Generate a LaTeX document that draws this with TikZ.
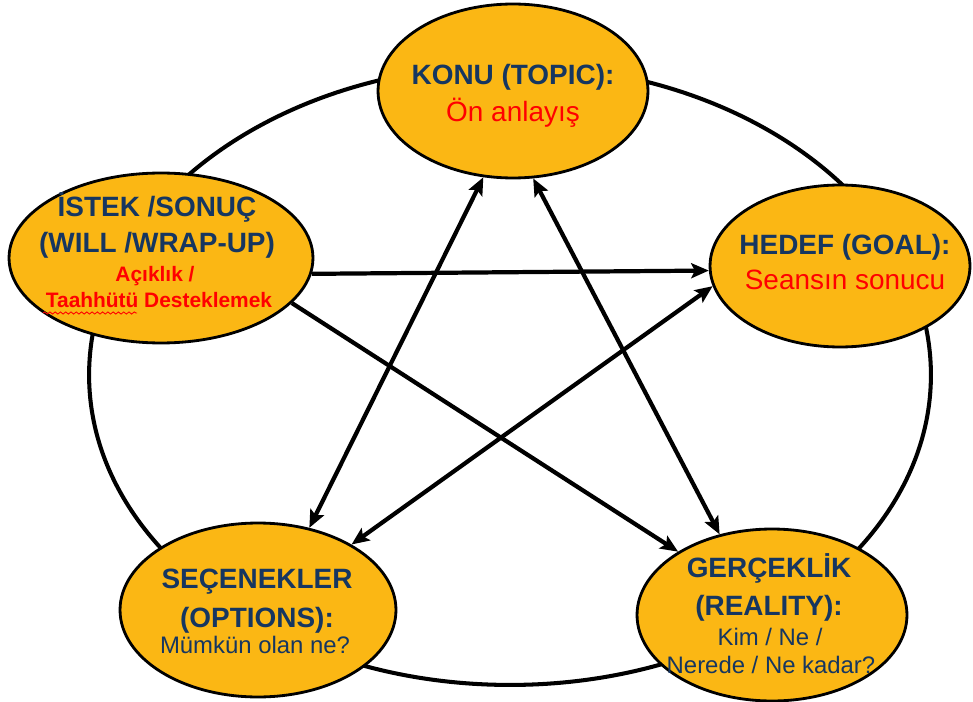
\documentclass[tikz,border=0pt]{standalone}
\usepackage{fontspec}
\setmainfont{Liberation Sans}
\usetikzlibrary{shapes.geometric,arrows.meta,decorations.pathmorphing}
\definecolor{bubblefill}{RGB}{251,183,20}
\definecolor{navy}{RGB}{22,54,96}
\definecolor{hot}{RGB}{255,0,0}

\begin{document}
\begin{tikzpicture}[x=0.02cm,y=-0.02cm,
  ring/.style={draw=black, line width=2.3pt},
  bubble/.style={ellipse, draw=black, line width=1.6pt, fill=bubblefill, inner sep=0pt},
  head/.style={anchor=base, inner sep=0pt, text=navy, font=\fontsize{15.9}{19}\selectfont\bfseries},
  redline/.style={anchor=base, inner sep=0pt, text=hot, font=\fontsize{15.9}{19}\selectfont},
  redsmall/.style={anchor=base, inner sep=0pt, text=hot, font=\fontsize{11.9}{14}\selectfont\bfseries},
  navyline/.style={anchor=base, inner sep=0pt, text=navy, font=\fontsize{13.6}{16}\selectfont},
  arr/.style={draw=black, line width=2.4pt, -{Stealth[length=10pt, width=8.5pt, inset=2pt]}},
  twoway/.style={draw=black, line width=2.4pt, {Stealth[length=10pt, width=8.5pt, inset=2pt]}-{Stealth[length=10pt, width=8.5pt, inset=2pt]}},
  squiggle/.style={draw=hot, line width=0.5pt, decorate, decoration={snake, amplitude=0.6pt, segment length=3pt}}
]
\useasboundingbox (0,0) rectangle (973,702);

% outer cycle behind the five stages
\draw[ring] (510,375) ellipse [x radius=8.42cm, y radius=6.2cm];

% the five stages
\node[bubble, minimum width=5.4cm, minimum height=3.48cm] (konu) at (513,91) {};
\node[bubble, minimum width=6.08cm, minimum height=3.4cm] (istek) at (161,258) {};
\node[bubble, minimum width=5.2cm, minimum height=3.24cm] (hedef) at (840,266) {};
\node[bubble, minimum width=5.52cm, minimum height=3.48cm] (secenek) at (258,610) {};
\node[bubble, minimum width=5.4cm, minimum height=3.44cm] (gercek) at (772,615) {};

% connections between the stages
\draw[arr] (istek.354.7) -- (hedef.182.6);
\draw[arr] (istek.341.3) -- (gercek.146.9);
\draw[twoway] (konu.251) -- (secenek.58.6);
\draw[twoway] (konu.283) -- (gercek.123);
\draw[twoway] (hedef.189.8) -- (secenek.35.5);

% labels
\node[head] (konu1) at (513,85) {KONU (TOPIC):};
\node[redline] (konu2) at (513,122) {Ön anlayış};

\node[head] (istek1) at (157,217) {İSTEK /SONUÇ};
\node[head] (istek2) at (157,253) {(WILL /WRAP-UP)};
\node[redsmall] (istek3) at (155,282) {Açıklık /};
\node[redsmall] (istek4) at (159,308) {Taahhütü Desteklemek};
\draw[squiggle] (43,313) -- (137,313);

\node[head] (hedef1) at (845,255) {HEDEF (GOAL):};
\node[redline] (hedef2) at (845,290) {Seansın sonucu};

\node[head] (secenek1) at (257,588) {SEÇENEKLER};
\node[head] (secenek2) at (257,627) {(OPTIONS):};
\node[navyline] (secenek3) at (255,653) {Mümkün olan ne?};

\node[head] (gercek1) at (769,577) {GERÇEKLİK};
\node[head] (gercek2) at (769,615) {(REALITY):};
\node[navyline] (gercek3) at (770,645) {Kim / Ne /};
\node[navyline] (gercek4) at (771,673) {Nerede / Ne kadar?};
\end{tikzpicture}
\end{document}
